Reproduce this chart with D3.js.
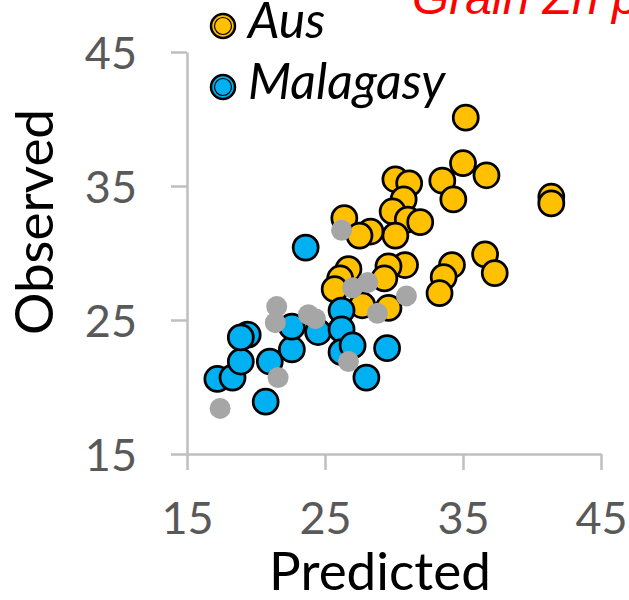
<!DOCTYPE html>
<html>
<head>
<meta charset="utf-8">
<script src="https://cdn.jsdelivr.net/npm/d3@7"></script>
<style>
  body { margin: 0; background: #fff; }
  svg { display: block; }
</style>
</head>
<body>
<div id="chart"></div>
<script>
const ausX = [35.2, 35.0, 36.7, 33.5, 34.3, 41.4, 41.4, 30.1, 31.1, 30.7, 29.9, 31.0, 31.9, 30.1, 26.4,
              28.3, 27.5, 36.6, 37.3, 34.2, 33.6, 33.3, 30.8, 29.6, 29.3, 26.7, 26.1, 25.7, 27.7, 29.6];
const ausY = [40.1, 36.7, 35.8, 35.4, 34.0, 34.2, 33.7, 35.5, 35.2, 34.0, 33.1, 32.5, 32.3, 31.3, 32.6,
              31.6, 31.3, 29.9, 28.5, 29.1, 28.2, 27.0, 29.1, 29.0, 28.1, 28.8, 28.1, 27.3, 26.1, 25.9];
const malX = [17.2, 18.3, 18.9, 19.4, 18.9, 21.0, 20.7, 22.6, 22.6, 24.5, 26.2, 26.2, 26.2, 27.0, 28.0, 29.5, 23.6];
const malY = [20.6, 20.7, 21.9, 23.9, 23.7, 21.9, 18.9, 22.8, 24.5, 24.1, 25.7, 24.3, 22.6, 23.1, 20.7, 22.9, 30.4];
const otherX = [21.5, 21.4, 23.8, 24.3, 21.6, 17.4, 26.7, 28.8, 30.9, 27.0, 28.1, 26.2];
const otherY = [26.0, 24.8, 25.4, 25.1, 20.7, 18.4, 21.9, 25.5, 26.8, 27.4, 27.8, 31.7];
const ticks = [15, 25, 35, 45];
const legendNames = ["Aus", "Malagasy"];

let width = 629,
    height = 600;

let svg = d3.select("#chart")
    .append("svg")
    .attr("width", width)
    .attr("height", height);

let x = d3.scaleLinear().domain([15, 45]).range([187, 601]);
let y = d3.scaleLinear().domain([15, 45]).range([454, 52]);

const axisColor = "#bfbfbf";
const tickFont = "Lato, 'Open Sans', sans-serif";

// red title, clipped at the top of the picture
svg.append("text")
    .attr("x", 412)
    .attr("y", 14)
    .attr("fill", "#ff0000")
    .style("font-family", "'Liberation Sans', Arial, sans-serif")
    .style("font-style", "italic")
    .style("font-size", "48px")
    .text("Grain Zn ppm");

// axes
let xAxis = svg.append("g")
    .attr("transform", "translate(0," + y(15) + ")")
    .call(d3.axisBottom(x).tickValues(ticks).tickSize(16).tickSizeOuter(0).tickPadding(32));

let yAxis = svg.append("g")
    .attr("transform", "translate(" + x(15) + ",0)")
    .call(d3.axisLeft(y).tickValues(ticks).tickSize(16).tickSizeOuter(0).tickPadding(34));

[xAxis, yAxis].forEach(function (g) {
    g.select(".domain").attr("stroke", axisColor).attr("stroke-width", 2.5);
    g.selectAll(".tick line").attr("stroke", axisColor).attr("stroke-width", 2.5);
    g.selectAll(".tick text")
        .attr("fill", "#595959")
        .style("font-family", tickFont)
        .style("font-size", "45px");
});
yAxis.selectAll(".tick text").attr("dy", "0.36em");

// axis titles
svg.append("text")
    .attr("x", 380)
    .attr("y", 590)
    .attr("text-anchor", "middle")
    .style("font-family", tickFont)
    .style("font-size", "53px")
    .text("Predicted");

svg.append("text")
    .attr("transform", "translate(53,222) rotate(-90)")
    .attr("text-anchor", "middle")
    .style("font-family", tickFont)
    .style("font-size", "53px")
    .text("Observed");

// points: yellow first, then blue, grey on top
let plot = svg.append("g");

plot.selectAll(".aus")
    .data(d3.range(ausX.length))
    .enter().append("circle")
    .attr("class", "aus")
    .attr("cx", function (i) { return x(ausX[i]); })
    .attr("cy", function (i) { return y(ausY[i]); })
    .attr("r", 12.5)
    .attr("fill", "#ffc000")
    .attr("stroke", "#000")
    .attr("stroke-width", 2.75);

plot.selectAll(".mal")
    .data(d3.range(malX.length))
    .enter().append("circle")
    .attr("class", "mal")
    .attr("cx", function (i) { return x(malX[i]); })
    .attr("cy", function (i) { return y(malY[i]); })
    .attr("r", 12.5)
    .attr("fill", "#00b0f0")
    .attr("stroke", "#000")
    .attr("stroke-width", 2.75);

plot.selectAll(".other")
    .data(d3.range(otherX.length))
    .enter().append("circle")
    .attr("class", "other")
    .attr("cx", function (i) { return x(otherX[i]); })
    .attr("cy", function (i) { return y(otherY[i]); })
    .attr("r", 10.5)
    .attr("fill", "#a6a6a6");

// legend
let legendColors = ["#ffc000", "#00b0f0"];
let legend = svg.selectAll(".legend")
    .data(legendNames)
    .enter().append("g")
    .attr("class", "legend")
    .attr("transform", function (d, i) { return "translate(223," + (26 + i * 61) + ")"; });

legend.append("circle")
    .attr("r", 12)
    .attr("fill", function (d, i) { return legendColors[i]; })
    .attr("stroke", "#000")
    .attr("stroke-width", 2.5);

legend.append("circle")
    .attr("r", 8.5)
    .attr("fill", "none")
    .attr("stroke", "#000")
    .attr("stroke-width", 1.2);

legend.append("text")
    .attr("x", 25)
    .attr("y", 12)
    .style("font-family", tickFont)
    .style("font-style", "italic")
    .style("font-size", "50px")
    .text(function (d) { return d; });
</script>
</body>
</html>
